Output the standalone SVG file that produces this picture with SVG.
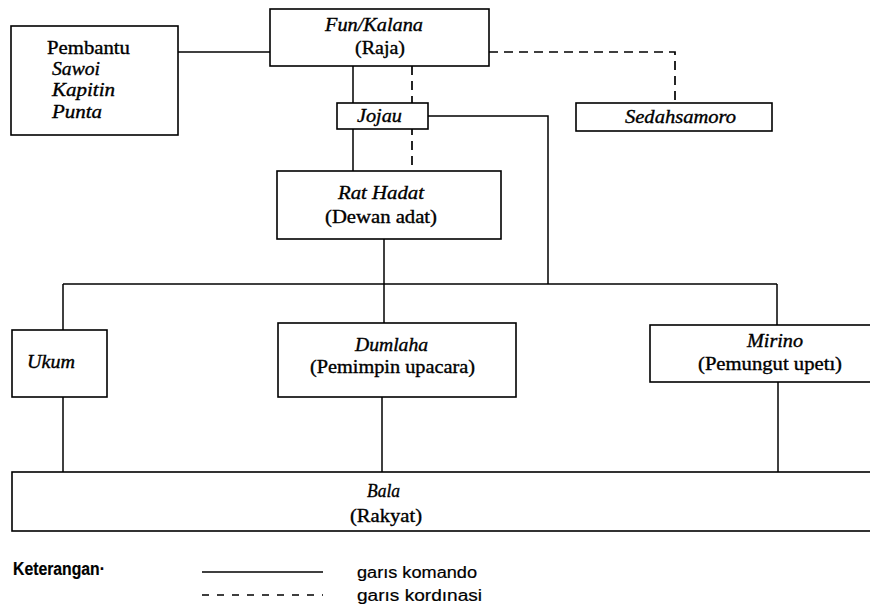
<svg xmlns="http://www.w3.org/2000/svg" width="870" height="609" viewBox="0 0 870 609">
  <style>
    .box { fill: #fff; stroke: #000; stroke-width: 1.6; }
    .cmd { fill: none; stroke: #000; stroke-width: 1.5; }
    .crd { fill: none; stroke: #000; stroke-width: 1.7; stroke-dasharray: 9 6; }
    text { font-family: "Liberation Serif", "Times New Roman", serif; font-size: 18px; fill: #000; stroke: #000; stroke-width: 0.35; }
    .it { font-style: italic; }
    .lg { font-family: "Liberation Sans", Arial, sans-serif; font-size: 16px; stroke-width: 0.2; }
    .key { font-size: 18px; font-weight: bold; }
  </style>

  <rect width="870" height="609" fill="#fff"/>

  <!-- connectors: solid = command line, dashed = coordination line -->
  <g id="connectors">
    <path class="cmd" d="M178 52 H270"/>
    <path class="cmd" d="M353 66 V103 M353 129 V171"/>
    <path class="cmd" d="M428 116 H548 V284"/>
    <path class="cmd" d="M384 239 V323"/>
    <path class="cmd" d="M63 284 H777"/>
    <path class="cmd" d="M63 284 V330"/>
    <path class="cmd" d="M777 284 V325"/>
    <path class="cmd" d="M63 397 V472"/>
    <path class="cmd" d="M382 397 V472"/>
    <path class="cmd" d="M778 382 V472"/>
    <path class="crd" d="M412 66 V171"/>
    <path class="crd" d="M489 52 H675 V103"/>
  </g>

  <g id="pembantu">
    <rect class="box" x="11" y="26" width="167" height="109"/>
    <text x="47" y="54" textLength="83" lengthAdjust="spacingAndGlyphs">Pembantu</text>
    <text class="it" x="52" y="75" textLength="48" lengthAdjust="spacingAndGlyphs">Sawoi</text>
    <text class="it" x="52" y="96" textLength="63" lengthAdjust="spacingAndGlyphs">Kapitin</text>
    <text class="it" x="52" y="118" textLength="50" lengthAdjust="spacingAndGlyphs">Punta</text>
  </g>

  <g id="fun-kalana">
    <rect class="box" x="270" y="9" width="219" height="57"/>
    <text class="it" x="325" y="31" textLength="98" lengthAdjust="spacingAndGlyphs">Fun/Kalana</text>
    <text x="355" y="54" textLength="50" lengthAdjust="spacingAndGlyphs">(Raja)</text>
  </g>

  <g id="jojau">
    <rect class="box" x="337" y="103" width="91" height="26"/>
    <text class="it" x="357" y="122" textLength="45" lengthAdjust="spacingAndGlyphs">Jojau</text>
  </g>

  <g id="sedahsamoro">
    <rect class="box" x="576" y="103" width="196" height="28"/>
    <text class="it" x="625" y="123" textLength="111" lengthAdjust="spacingAndGlyphs">Sedahsamoro</text>
  </g>

  <g id="rat-hadat">
    <rect class="box" x="277" y="171" width="224" height="68"/>
    <text class="it" x="338" y="199" textLength="86" lengthAdjust="spacingAndGlyphs">Rat Hadat</text>
    <text x="325" y="223" textLength="112" lengthAdjust="spacingAndGlyphs">(Dewan adat)</text>
  </g>

  <g id="ukum">
    <rect class="box" x="12" y="330" width="95" height="67"/>
    <text class="it" x="27" y="368" textLength="48" lengthAdjust="spacingAndGlyphs">Ukum</text>
  </g>

  <g id="dumlaha">
    <rect class="box" x="278" y="323" width="238" height="74"/>
    <text class="it" x="355" y="351" textLength="73" lengthAdjust="spacingAndGlyphs">Dumlaha</text>
    <text x="310" y="373" textLength="165" lengthAdjust="spacingAndGlyphs">(Pemimpin upacara)</text>
  </g>

  <g id="mirino">
    <rect class="box" x="650" y="325" width="240" height="57"/>
    <text class="it" x="747" y="347" textLength="56" lengthAdjust="spacingAndGlyphs">Mirino</text>
    <text x="698" y="370" textLength="144" lengthAdjust="spacingAndGlyphs">(Pemungut upetı)</text>
  </g>

  <g id="bala">
    <rect class="box" x="12" y="472" width="878" height="59"/>
    <text class="it" x="367" y="497" textLength="33" lengthAdjust="spacingAndGlyphs">Bala</text>
    <text x="350" y="522" textLength="72" lengthAdjust="spacingAndGlyphs">(Rakyat)</text>
  </g>

  <!-- legend -->
  <g id="legend">
    <text class="lg key" x="13" y="575" textLength="92" lengthAdjust="spacingAndGlyphs">Keterangan·</text>
    <path class="cmd" d="M202 572 H323" stroke-width="1.8"/>
    <path class="cmd" d="M202 595 H323" stroke-dasharray="7 8" stroke-width="1.8"/>
    <text class="lg" x="357" y="578" textLength="120" lengthAdjust="spacingAndGlyphs">garıs komando</text>
    <text class="lg" x="357" y="601" textLength="125" lengthAdjust="spacingAndGlyphs">garıs kordınasi</text>
  </g>
</svg>
